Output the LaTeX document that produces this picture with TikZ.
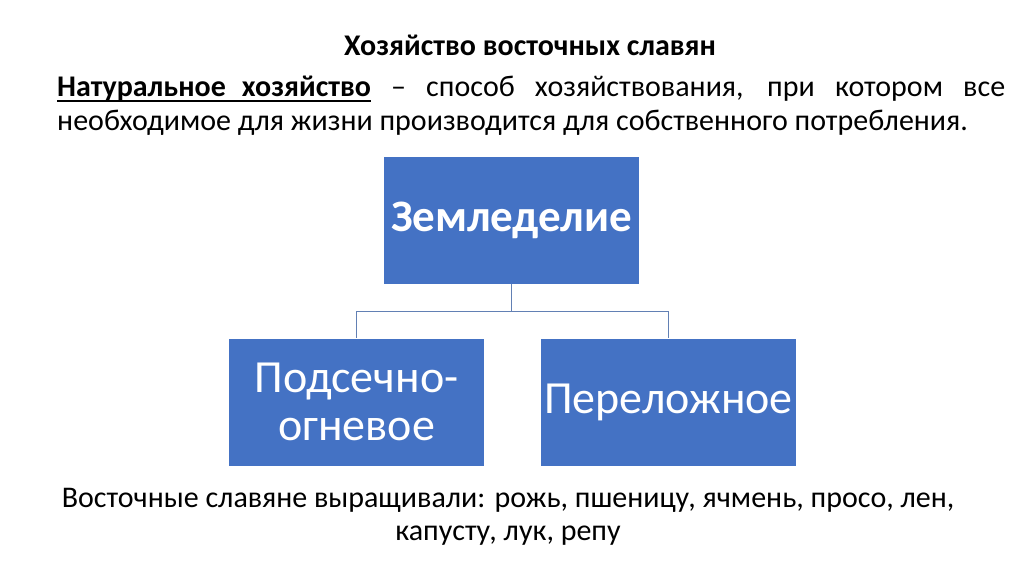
\documentclass[tikz,border=0pt]{standalone}
\usepackage{fontspec}
\setmainfont{Carlito}
\usetikzlibrary{positioning}
\definecolor{slavblue}{RGB}{68,114,196}
\definecolor{linkblue}{RGB}{98,128,180}
\newcommand{\thickul}[1]{\setbox0\hbox{#1}\rlap{\vrule height -3pt depth 5.5pt width \wd0}\box0\relax}

\begin{document}
\begin{tikzpicture}[x=1pt, y=-1pt,
  box/.style={fill=slavblue, text=white, minimum width=255pt, minimum height=127pt,
    inner sep=0pt, align=center},
  link/.style={draw=linkblue, line width=1.2pt}]

% ----------------------------
% PARAMETERS
% ----------------------------
\def\W{1024}      % picture width
\def\H{574}       % picture height
\def\drop{28}     % drop from top box to the fork

\useasboundingbox[fill=white] (0,0) rectangle (\W,\H);

% ----------------------------
% HEADING AND DEFINITION
% ----------------------------
\node[font=\fontsize{30}{36}\selectfont\bfseries] (title) at (530,45) {Хозяйство восточных славян};

\node[text width=948pt, align=justify, inner sep=0pt, anchor=north west,
  font=\fontsize{30}{34}\selectfont] (defn) at (57,76)
  {\thickul{\textbf{Натуральное\hspace{16pt}хозяйство}} – способ хозяйствования, при котором все\linebreak
   необходимое для жизни производится для собственного потребления.};

% ----------------------------
% BOXES
% ----------------------------
\node[box, font=\fontsize{45}{48}\selectfont\bfseries] (zeml) at (511.5,220) {Земледелие};
\node[box, font=\fontsize{46}{48}\selectfont] (podsech) at (356.5,402) {Подсечно-\\огневое};
\node[box, font=\fontsize{46}{48}\selectfont] (perelog) at (668.5,402) {Переложное};

% ----------------------------
% CONNECTORS
% ----------------------------
\draw[link] (zeml.south) -- ++(0,\drop) coordinate (fork);
\draw[link] (fork) -| (podsech.north);
\draw[link] (fork) -| (perelog.north);

% ----------------------------
% CROPS
% ----------------------------
\node[align=center, font=\fontsize{30}{33}\selectfont] (crops) at (508,517)
  {Восточные славяне выращивали: рожь, пшеницу, ячмень, просо, лен,\\капусту, лук, репу};

\end{tikzpicture}
\end{document}
